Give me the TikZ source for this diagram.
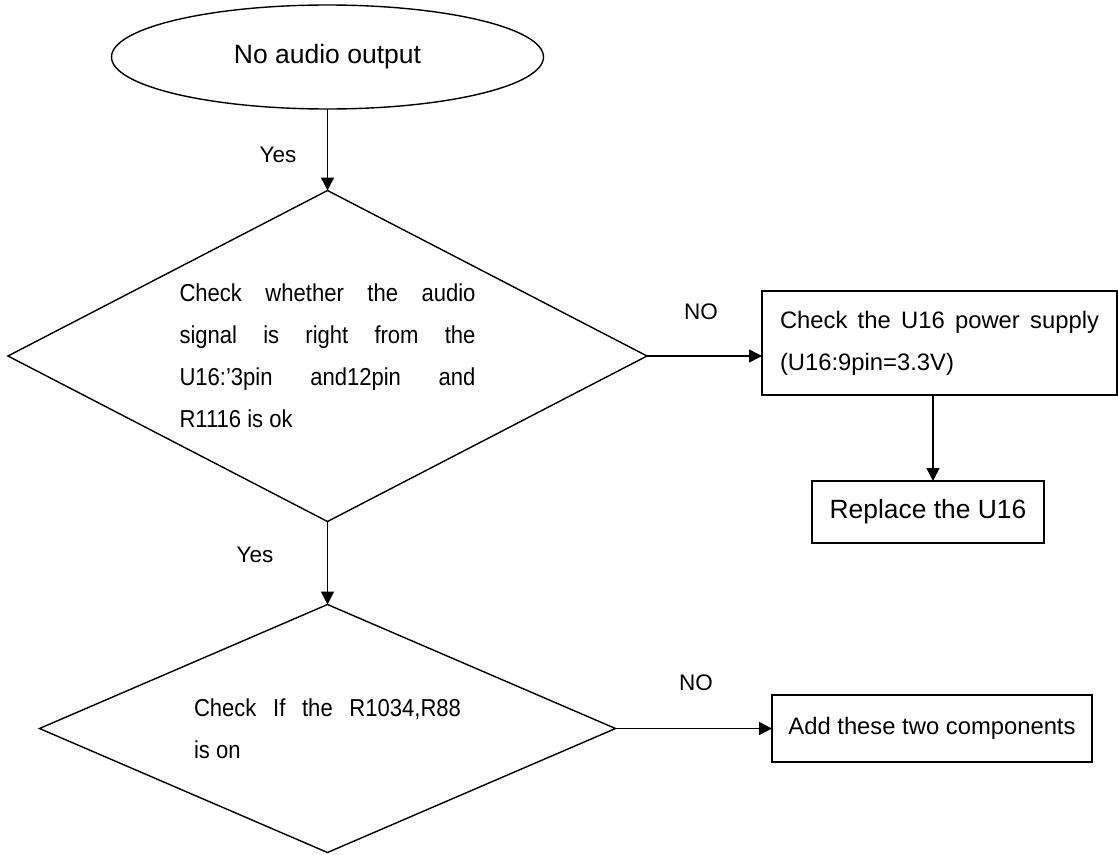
\documentclass[tikz,border=0pt]{standalone}
\usepackage{fontspec}
\setmainfont{Liberation Sans}
\newfontfamily\condfont[FakeStretch=0.9]{Liberation Sans}
\usetikzlibrary{shapes.geometric,arrows.meta,calc}
\begin{document}
\begin{tikzpicture}[x=1pt,y=-1pt,
  every node/.style={inner sep=0pt, outer sep=0pt},
  shp/.style={draw, line width=1.4pt},
  oval/.style={shp, ellipse, minimum width=432pt, minimum height=104pt, font=\fontsize{26.5}{32}\selectfont},
  decision/.style={shp, diamond, aspect=1.93, align=left, font=\condfont\fontsize{24.5}{42}\selectfont},
  procbox/.style={shp, rectangle, align=left},
  lbl/.style={font=\fontsize{22.5}{27}\selectfont},
  flow/.style={line width=1.4pt, -{Triangle[length=13pt,width=13pt]}},
]
\useasboundingbox (0,0) rectangle (1118,854);

\node[oval] (start) at (327.5,57) {No audio output};

\node[decision, minimum width=639pt, minimum height=331pt] (d1) at (327.5,356)
  {\makebox[296pt][s]{Check whether the audio}\\
   \makebox[296pt][s]{signal is right from the}\\
   \makebox[296pt][s]{U16:’3pin and12pin and}\\
   R1116 is ok};

\node[procbox, minimum width=355pt, minimum height=104pt, font=\fontsize{23.8}{42}\selectfont] (b1) at (939.5,343)
  {\makebox[319pt][s]{Check the U16 power supply}\\(U16:9pin=3.3V)};

\node[procbox, minimum width=232pt, minimum height=62pt, font=\fontsize{26.4}{32}\selectfont] (b2) at (928,512)
  {Replace the U16};

\node[decision, minimum width=576pt, minimum height=248pt] (d2) at (327.5,728.5)
  {\makebox[267pt][s]{Check If the R1034,R88}\\is on};

\node[procbox, minimum width=320pt, minimum height=67pt, font=\fontsize{23.8}{30}\selectfont] (b3) at (932,728.5)
  {Add these two components};

\coordinate (bx) at (933,0);

\draw[flow] (start.south) -- (d1.north);
\draw[flow] (d1.east) -- (d1.east -| b1.west);
\draw[flow] (b1.south -| bx) -- (b2.north -| bx);
\draw[flow] (d1.south) -- (d2.north);
\draw[flow] (d2.east) -- (d2.east -| b3.west);

\node[lbl] (yes1) at (278,155) {Yes};
\node[lbl] (yes2) at (255,555) {Yes};
\node[lbl] (no1) at (701,312) {NO};
\node[lbl] (no2) at (696,683) {NO};
\end{tikzpicture}
\end{document}
